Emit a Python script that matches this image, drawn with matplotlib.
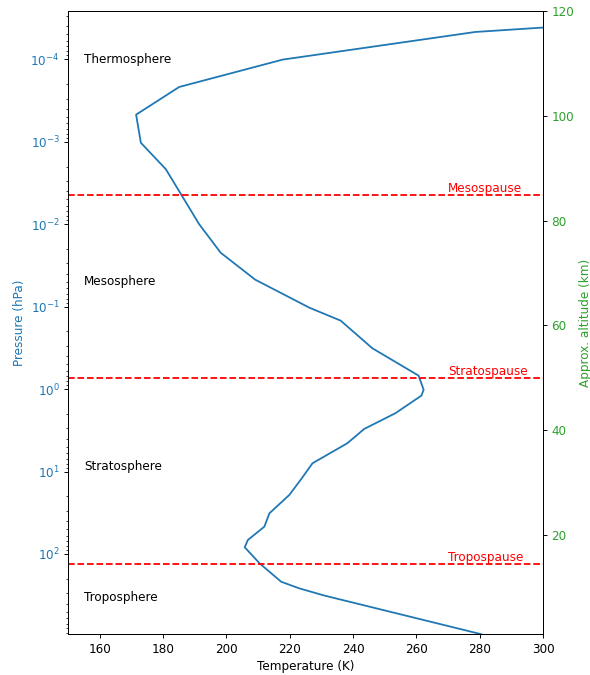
import numpy as np
import matplotlib
matplotlib.use("Agg")
import matplotlib.pyplot as plt

# temperature profile: pressure (hPa) and temperature (K)
pressure = [2.62e-5, 4.67e-5, 1.01e-4, 2.17e-4, 4.70e-4, 1.03e-3, 2.16e-3,
            1.0e-2, 2.22e-2, 4.71e-2, 0.103, 0.148, 0.320, 0.687, 1.02,
            1.20, 1.96, 3.05, 4.54, 7.94, 12.4, 19.2, 32.1, 46.6, 67.6,
            82.9, 130.0, 217.0, 261.0, 319.0, 942.0]
temperature = [379.0, 278.6, 217.8, 185.1, 171.5, 173.0, 180.9,
               191.4, 198.2, 209.1, 226.2, 236.1, 246.1, 260.7, 262.3,
               261.6, 253.4, 243.5, 238.2, 227.2, 223.6, 219.9, 213.6, 212.0, 206.8,
               205.8, 210.5, 217.3, 223.0, 230.9, 280.6]

# boundaries between layers (km)
pause_names = ["Mesospause", "Stratospause", "Tropospause"]
pause_alt = [85.0, 50.0, 14.4]

# layer names and where they are written (hPa)
layer_names = ["Thermosphere", "Mesosphere", "Stratosphere", "Troposphere"]
layer_p = [1.0e-4, 0.05, 8.8, 340.0]

alt_range = (1.0, 120.0)

DPI = 86


def main():
    fig = plt.figure(figsize=(590 / DPI, 675 / DPI), dpi=DPI)
    ax = fig.add_axes([0.1153, 0.0603, 0.8051, 0.923])

    ax.plot(temperature, pressure, color="tab:blue", lw=1.5)
    ax.set_yscale("log")
    ax.set_ylim(max(pressure), min(pressure))
    ax.set_xlim(150, 300)
    ax.set_xlabel("Temperature (K)")
    ax.set_ylabel("Pressure (hPa)", color="tab:blue")
    ax.tick_params(axis="y", which="both", labelcolor="tab:blue")

    for name, p in zip(layer_names, layer_p):
        ax.text(155, p, name, va="center", ha="left")

    ax2 = ax.twinx()
    ax2.set_ylim(*alt_range)
    ax2.set_ylabel("Approx. altitude (km)", color="tab:green")
    ax2.tick_params(axis="y", labelcolor="tab:green")

    for name, z in zip(pause_names, pause_alt):
        ax2.axhline(z, color="red", ls="--", lw=1.5)
        ax2.text(270, z, name, color="red", va="bottom", ha="left")

    fig.savefig("out.png", dpi=DPI)


if __name__ == "__main__":
    main()
